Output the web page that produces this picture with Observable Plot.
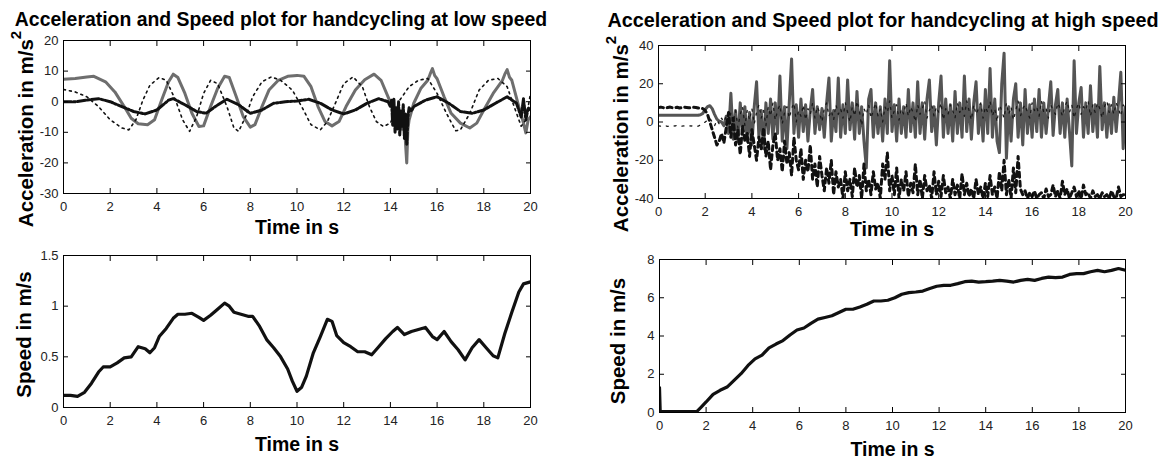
<!DOCTYPE html>
<html>
<head>
<meta charset="utf-8">
<script src="https://cdn.jsdelivr.net/npm/d3@7"></script>
<script src="https://cdn.jsdelivr.net/npm/@observablehq/plot@0.6"></script>
<style>
  html, body { margin: 0; padding: 0; background: #fff; }
  #figure { position: relative; width: 1163px; height: 461px; overflow: hidden; background: #fff; }
  #figure > svg { position: absolute; }
  #figure g[aria-label="x-axis label"] text { font-weight: bold; font-size: 19.5px; fill: #000; }
</style>
</head>
<body>
<div id="figure"></div>
<script>
// ---------- shared axis ticks ----------
const timeTicks = [0, 2, 4, 6, 8, 10, 12, 14, 16, 18, 20];
const lowAccelTicks = [-30, -20, -10, 0, 10, 20];
const lowSpeedTicks = [0, 0.5, 1, 1.5];
const highAccelTicks = [-40, -20, 0, 20, 40];
const highSpeedTicks = [0, 2, 4, 6, 8];

// ---------- low speed: acceleration (three sensor axes) ----------
const lowSolidTime = [0,0.5,1,1.3,1.8,2.2,2.6,2.9,3.2,3.6,3.9,4.2,4.5,4.7,4.9,5.2,5.5,5.8,6.0,6.3,6.6,6.9,7.1,7.4,7.7,8.0,8.2,8.5,8.8,9.2,9.6,10.0,10.3,10.6,10.9,11.2,11.5,11.8,12.1,12.5,12.9,13.3,13.6,13.9,14.2,14.4,14.5,14.6,14.65,14.7,14.75,14.8,15.0,15.3,15.6,15.7,15.8,15.9,16.0,16.3,16.6,17.0,17.4,17.7,18.0,18.4,18.8,18.9,19.0,19.1,19.2,19.5,19.7,19.8,19.9,20];
const lowSolidAccel = [7.3,7.6,8.1,8.3,6.5,3.2,-1.6,-5.4,-7.2,-7.5,-5.9,0.5,6.5,9,7.9,2.7,-3.8,-8.1,-7.9,-1.6,4.3,8.3,7.9,1.6,-4.9,-8.3,-7.5,-1.6,3.8,7,8.3,8.6,8.3,4.9,-1.6,-6.5,-7.9,-6.5,-1.6,3.8,7.2,9,7,1.6,-3.8,-7,-9,-6,-14,-20,-9,-6,-0.5,4.3,7,9,10.8,8.5,7.5,1.6,-3.8,-7,-8.6,-7,-2.7,2.7,7,9,10.5,8,7,-1.6,-7,-10.2,-6,-4.9];

const lowDotTime = [0,0.5,1.0,1.5,2.0,2.5,2.8,3.1,3.4,3.7,4.1,4.4,4.8,5.1,5.4,5.7,6.0,6.3,6.6,7.0,7.3,7.5,7.8,8.1,8.5,8.9,9.3,9.8,10.2,10.6,11.0,11.3,11.7,12.0,12.4,12.8,13.1,13.4,13.7,14.0,14.4,14.8,15.2,15.6,16.0,16.4,16.8,17.0,17.4,17.8,18.2,18.6,19.0,19.3,19.6,19.8,20];
const lowDotAccel = [4,3.2,1.6,-1.6,-5.9,-8.6,-9.2,-5.9,0.5,5.4,7.9,7,0.5,-5.9,-9.7,-4.9,2.7,7,5.9,-1.6,-8.6,-9.7,-4.9,1.6,6.5,8.1,7,3.8,-1.6,-7.5,-9.2,-6.5,0.5,5.9,8.1,4.9,-1.6,-6.5,-8.1,-7,0.5,4.9,7,7.6,2.7,-3.8,-9.5,-9.2,-3.8,3.8,7,7.6,4.9,-1.6,-8,-6,2.7];

const lowDashTime = [0,0.5,1.0,1.5,2.0,2.5,3.0,3.5,4.0,4.5,4.7,5.2,5.7,6.1,6.5,7.0,7.5,8.0,8.5,9.0,9.5,10.0,10.5,11.0,11.5,12.0,12.5,13.0,13.5,13.9,14.0,14.05,14.1,14.15,14.2,14.25,14.3,14.35,14.4,14.45,14.5,14.55,14.6,14.65,14.7,14.75,14.8,14.9,15.0,15.5,16.0,16.5,17.0,17.5,18.0,18.5,19.0,19.4,19.6,19.7,19.8,19.9,20];
const lowDashAccel = [0,0,0.5,1,0,-1.6,-3.2,-4,-2.7,0.5,1,-1,-3.2,-3.8,-1.6,0.8,-1,-3.8,-2.7,-0.5,0,0.2,0.8,-0.5,-2.7,-4,-2.7,-0.5,1,0,-1.6,0.5,-8,1,-10,-2,-9,0,-11,-3,-8,-1,-12,-4,-14,-5,-2,-3,-1.6,0.5,1.6,-0.5,-3.2,-3.8,-2.7,-0.5,1.6,-0.5,-5,1,-6,-2,-2.7];

// ---------- low speed: wheel speed ----------
const lowSpeedTime = [0,0.3,0.6,0.9,1.2,1.5,1.7,2.0,2.3,2.6,2.9,3.2,3.5,3.7,3.9,4.1,4.4,4.7,4.9,5.2,5.5,5.8,6.0,6.3,6.6,6.9,7.1,7.3,7.6,7.9,8.1,8.4,8.7,9.0,9.3,9.6,9.8,10.0,10.2,10.4,10.7,11.0,11.3,11.5,11.7,12.0,12.3,12.6,12.9,13.2,13.5,13.8,14.1,14.3,14.6,14.9,15.2,15.5,15.8,16.0,16.3,16.6,16.9,17.2,17.5,17.8,18.1,18.4,18.6,18.9,19.2,19.5,19.7,20.0];
const lowSpeed = [0.12,0.12,0.11,0.15,0.24,0.35,0.40,0.40,0.44,0.49,0.50,0.60,0.58,0.54,0.59,0.70,0.78,0.88,0.92,0.92,0.93,0.89,0.86,0.91,0.97,1.03,1.0,0.94,0.92,0.90,0.90,0.80,0.67,0.59,0.50,0.38,0.26,0.16,0.20,0.31,0.54,0.70,0.87,0.85,0.71,0.64,0.60,0.55,0.55,0.52,0.60,0.68,0.75,0.79,0.72,0.75,0.77,0.79,0.70,0.67,0.75,0.65,0.57,0.47,0.59,0.67,0.59,0.51,0.49,0.73,0.94,1.14,1.22,1.24];

// ---------- high speed: acceleration, sampled every 0.1 s ----------
const highSampleStep = 0.1;
const highSolidAccel = [
  3.5,3.5,3.5,3.5,3.5,3.5,3.5,3.5,3.5,3.5,
  3.5,3.5,3.5,3.5,3.5,3.5,3.5,3.5,3.8,4.5,
  6.5,8,8.5,7,4,1.5,0.5,0,-2,3,
  -6,15,-9,6,-10,10,-6,8,-10,5,
  -12,8,21,-8,6,-14,10,-6,12,-9,
  10,-6,24,-10,8,-14,10,33,-6,9,
  -8,12,-5,9,-10,6,17,-6,8,-4,
  7,-8,10,23,-10,6,-5,23,-8,9,
  -6,22,-4,10,-9,16,-6,8,-10,-24,
  12,17,-8,10,-6,8,-10,12,-6,32,
  -5,9,-10,12,-6,8,-8,17,-5,10,
  -8,21,-6,10,-9,12,22,-5,8,-12,
  10,24,-8,12,-6,9,-10,16,-6,10,
  -8,24,-5,12,-9,10,21,-6,9,-10,
  17,-6,28,-8,12,-10,-16,20,36,-19,
  8,-10,12,20,-8,10,-12,17,-6,9,
  -8,12,-5,17,-8,10,-6,8,21,-7,
  9,17,-6,10,-8,12,-5,-23,32,-6,
  10,18,-8,10,-6,19,-5,9,-8,29,
  -4,10,-8,9,-6,13,-5,10,26,-14,
  8];
const highDashAccel = [
  7.5,7.8,7.5,7.2,7.6,7.8,7.4,7.5,7.7,7.3,
  7.5,7.8,7.6,7.4,7.5,7.7,7.6,7.3,7.2,7.0,
  6,4,0,-4,-8,-12,-10,-6,-11,-3,
  5,-8,2,-12,-4,-17,-2,-10,-6,-18,
  -4,-12,-20,-8,-14,-3,-18,-10,-25,-12,
  -6,-20,-14,-26,-10,-22,-16,-28,-8,-20,
  -25,-14,-30,-20,-26,-12,-30,-22,-34,-18,
  -28,-36,-24,-32,-20,-38,-26,-34,-30,-40,
  -26,-36,-30,-39,-24,-34,-28,-40,-22,-36,
  -30,-38,-26,-35,-32,-40,-22,-30,-16,-36,
  -28,-38,-24,-40,-30,-36,-26,-39,-32,-37,
  -22,-38,-30,-40,-28,-36,-33,-40,-26,-38,
  -31,-39,-28,-37,-34,-40,-30,-38,-33,-40,
  -27,-38,-32,-39,-35,-40,-30,-38,-34,-40,
  -32,-39,-28,-38,-34,-40,-26,-36,-20,-38,
  -30,-40,-24,-37,-18,-35,-38,-36,-40,-37,
  -39,-36,-40,-38,-37,-40,-35,-39,-38,-33,
  -39,-36,-40,-31,-38,-35,-40,-37,-34,-39,
  -36,-40,-33,-38,-37,-40,-36,-39,-38,-40,
  -37,-39,-38,-40,-36,-39,-40,-34,-39,-38,
  -38];
const highDotAccel = [
  -2,-2.2,-1.8,-2,-2.3,-1.9,-2,-2.1,-1.8,-2,
  -2.2,-2,-1.9,-2,-2.1,-1.8,-2,-2.2,-1.5,-1,
  0,1,2,0,-2,1,-1,2,0,3,
  -2,5,0,6,-3,4,8,-2,6,1,
  7,-1,5,9,2,6,-2,8,3,10,
  1,6,9,-1,5,8,2,7,10,0,
  6,3,9,1,7,4,10,2,8,5,
  0,7,10,3,6,1,9,4,7,2,
  10,5,0,8,3,11,6,-2,7,4,
  9,2,6,10,3,7,0,8,5,11,
  2,6,9,1,7,4,10,3,8,5,
  0,9,4,7,11,2,6,9,3,8,
  5,10,1,7,4,9,6,2,10,5,
  8,3,11,6,1,9,4,7,10,2,
  8,5,11,3,7,0,9,6,2,10,
  4,8,1,6,11,3,7,9,5,2,
  10,6,8,3,11,5,7,2,9,6,
  4,10,7,3,8,11,5,9,2,7,
  10,4,8,6,11,3,9,5,10,7,
  2,8,11,5,9,4,10,7,3,9,
  6];

// ---------- high speed: wheel speed ----------
const highSpeedTime = [0,0.03,0.5,1.0,1.5,1.6,1.8,2.0,2.3,2.6,2.9,3.2,3.5,3.8,4.1,4.4,4.7,5.0,5.3,5.6,5.9,6.2,6.5,6.8,7.1,7.4,7.7,8.0,8.3,8.6,8.9,9.2,9.5,9.8,10.1,10.4,10.7,11.0,11.3,11.6,11.9,12.2,12.5,12.8,13.1,13.4,13.7,14.0,14.3,14.6,14.9,15.2,15.5,15.8,16.1,16.4,16.7,17.0,17.3,17.6,17.9,18.2,18.5,18.8,19.1,19.4,19.7,20.0];
const highSpeed = [1.3,0.05,0.05,0.05,0.05,0.05,0.3,0.55,0.95,1.16,1.33,1.68,2.03,2.46,2.8,3.0,3.38,3.58,3.76,4.05,4.31,4.42,4.66,4.88,4.97,5.06,5.23,5.4,5.4,5.52,5.66,5.83,5.83,5.87,6.0,6.18,6.27,6.3,6.35,6.48,6.6,6.65,6.65,6.74,6.84,6.87,6.82,6.84,6.87,6.91,6.87,6.82,6.91,6.96,6.91,7.01,7.08,7.05,7.08,7.22,7.26,7.26,7.36,7.43,7.36,7.43,7.53,7.44];

// ---------- helpers ----------
const pairs = (times, values) => values.map((v, i) => ({t: times[i], v}));
const sampled = (values, step) => values.map((v, i) => ({t: i * step, v}));

const FONT = "'Liberation Sans', Arial, Helvetica, sans-serif";

// MATLAB-style box: inward ticks on all four sides, labels left and bottom
function boxAxes({yTicks, xLabelOffset}) {
  const plain = (d) => String(d);
  const blank = () => "";
  return [
    Plot.frame({stroke: "#000", strokeWidth: 1}),
    Plot.axisX(timeTicks, {anchor: "bottom", tickSize: 5, dy: -5, tickFormat: blank, label: null}),
    Plot.axisX(timeTicks, {anchor: "top", tickSize: 5, dy: 5, tickFormat: blank, label: null}),
    Plot.axisY(yTicks, {anchor: "left", tickSize: 5, dx: 5, tickFormat: blank, label: null}),
    Plot.axisY(yTicks, {anchor: "right", tickSize: 5, dx: -5, tickFormat: blank, label: null}),
    Plot.axisX(timeTicks, {anchor: "bottom", tickSize: 0, tickPadding: 8, tickFormat: plain,
      fill: "#222", label: "Time in s", labelAnchor: "center", labelArrow: "none", labelOffset: xLabelOffset}),
    Plot.axisY(yTicks, {anchor: "left", tickSize: 0, tickPadding: 5, tickFormat: plain,
      fill: "#222", label: null})
  ];
}

// raise the trailing "2" of m/s² like a TeX superscript
function superscriptSquare(svg) {
  svg.querySelectorAll("text").forEach((t) => {
    const s = t.textContent.trim();
    if (s.endsWith("m/s²")) {
      t.textContent = s.slice(0, -1);
      const sup = document.createElementNS("http://www.w3.org/2000/svg", "tspan");
      sup.setAttribute("dy", "-12");
      sup.setAttribute("font-size", "15px");
      sup.textContent = "2";
      t.appendChild(sup);
    }
  });
}

function panel({left, top, width, height, margin, yDomain, yTicks, yLabel, xLabelOffset, lines, title}) {
  const [mt, mr, mb, ml] = margin;
  const marks = [...lines];
  if (title) {
    marks.push(Plot.text([title.text], {
      text: (d) => d, frameAnchor: "top", lineAnchor: "bottom",
      dx: title.dx, dy: title.dy, fontSize: title.size, fontWeight: "bold", fill: "#000"
    }));
  }
  marks.push(...boxAxes({yTicks, xLabelOffset}));
  // rotated y label, centred along the left edge of the frame
  marks.push(Plot.text([yLabel.text], {
    text: (d) => d, frameAnchor: "left", rotate: -90, textAnchor: "middle", lineAnchor: "top",
    dx: yLabel.dx, dy: yLabel.dy, fontSize: 20.5, fontWeight: "bold", fill: "#000",
    ariaLabel: "y-axis label"
  }));
  const svg = Plot.plot({
    width, height,
    marginTop: mt, marginRight: mr, marginBottom: mb, marginLeft: ml,
    style: {fontFamily: FONT, fontSize: "13px", color: "#000", background: "transparent", overflow: "visible"},
    x: {domain: [0, 20]},
    y: {domain: yDomain},
    marks
  });
  superscriptSquare(svg);
  svg.style.left = left + "px";
  svg.style.top = top + "px";
  document.getElementById("figure").appendChild(svg);
}

// ---------- top left: acceleration, low speed ----------
panel({
  left: 0, top: 0, width: 580, height: 240, margin: [40, 50, 47, 63],
  yDomain: [-30, 20], yTicks: lowAccelTicks,
  yLabel: {text: "Acceleration in m/s²", dx: -45, dy: 12}, xLabelOffset: 40,
  title: {text: "Acceleration and Speed plot for handcycling at low speed", dx: -16, dy: -15, size: 19.4},
  lines: [
    Plot.line(pairs(lowSolidTime, lowSolidAccel), {x: "t", y: "v", stroke: "#6e6e6e", strokeWidth: 3, clip: true}),
    Plot.line(pairs(lowDotTime, lowDotAccel), {x: "t", y: "v", stroke: "#111", strokeWidth: 1.6, strokeDasharray: "2,4", clip: true}),
    Plot.line(pairs(lowDashTime, lowDashAccel), {x: "t", y: "v", stroke: "#111", strokeWidth: 3, strokeDasharray: "8,2,2,2", clip: true})
  ]
});

// ---------- bottom left: speed, low speed ----------
panel({
  left: 0, top: 240, width: 580, height: 221, margin: [15, 50, 54, 63],
  yDomain: [0, 1.5], yTicks: lowSpeedTicks,
  yLabel: {text: "Speed in m/s", dx: -47, dy: 3}, xLabelOffset: 43,
  lines: [
    Plot.line(pairs(lowSpeedTime, lowSpeed), {x: "t", y: "v", stroke: "#111", strokeWidth: 3.2, clip: true})
  ]
});

// ---------- top right: acceleration, high speed ----------
panel({
  left: 580, top: 0, width: 583, height: 240, margin: [45, 38, 42, 78],
  yDomain: [-40, 40], yTicks: highAccelTicks,
  yLabel: {text: "Acceleration in m/s²", dx: -45, dy: 12}, xLabelOffset: 37,
  title: {text: "Acceleration and Speed plot for handcycling at high speed", dx: -9, dy: -19, size: 19.75},
  lines: [
    Plot.line(sampled(highSolidAccel, highSampleStep), {x: "t", y: "v", stroke: "#555", strokeWidth: 3, clip: true}),
    Plot.line(sampled(highDotAccel, highSampleStep), {x: "t", y: "v", stroke: "#1a1a1a", strokeWidth: 1.3, strokeDasharray: "2,6", clip: true}),
    Plot.line(sampled(highDashAccel, highSampleStep), {x: "t", y: "v", stroke: "#111", strokeWidth: 3, strokeDasharray: "5,4", clip: true})
  ]
});

// ---------- bottom right: speed, high speed ----------
panel({
  left: 580, top: 240, width: 583, height: 221, margin: [19, 38, 49, 79],
  yDomain: [0, 8], yTicks: highSpeedTicks,
  yLabel: {text: "Speed in m/s", dx: -49, dy: 5}, xLabelOffset: 43,
  lines: [
    Plot.line(pairs(highSpeedTime, highSpeed), {x: "t", y: "v", stroke: "#111", strokeWidth: 3.2, clip: true})
  ]
});
</script>
</body>
</html>
